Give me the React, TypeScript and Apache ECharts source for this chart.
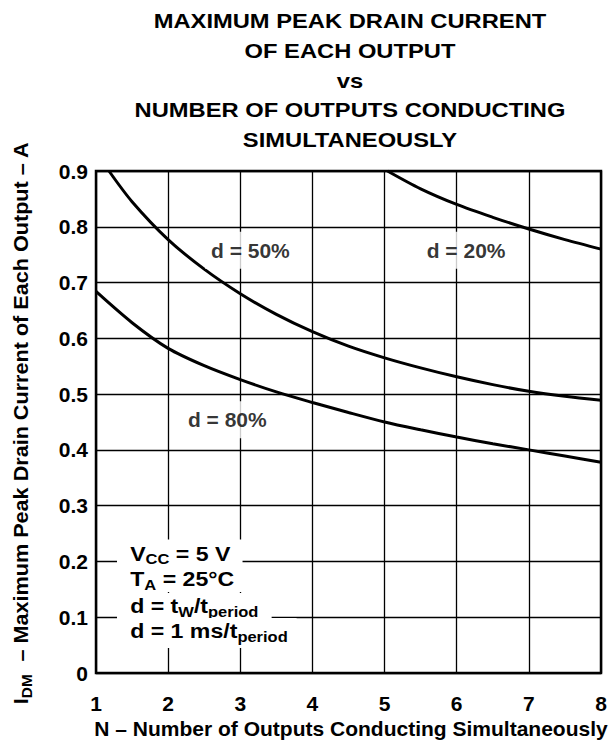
import React, { useEffect, useRef } from "react";
import * as echarts from "echarts";

// Number of outputs conducting simultaneously (x) vs max peak drain current (A)
const d20X = [5.04, 5.5, 6, 6.5, 7, 7.5, 8];
const d20Y = [0.9, 0.868, 0.84, 0.817, 0.796, 0.777, 0.76];

const d50X = [1.18, 1.5, 2, 2.5, 3, 3.5, 4, 4.5, 5, 5.5, 6, 6.5, 7, 7.5, 8];
const d50Y = [0.9, 0.845, 0.777, 0.724, 0.68, 0.643, 0.612, 0.586, 0.565, 0.547, 0.531, 0.517, 0.505, 0.496, 0.489];

const d80X = [1, 1.5, 2, 2.5, 3, 3.5, 4, 4.5, 5, 5.5, 6, 6.5, 7, 7.5, 8];
const d80Y = [0.684, 0.628, 0.582, 0.551, 0.526, 0.504, 0.485, 0.467, 0.45, 0.436, 0.423, 0.411, 0.4, 0.389, 0.378];

const curveLabels = ["d = 50%", "d = 20%", "d = 80%"];
const curveLabelX = [3.14, 6.13, 2.82];
const curveLabelY = [0.758, 0.758, 0.454];

const xTicks = [1, 2, 3, 4, 5, 6, 7, 8];
const yTicks = [0, 0.1, 0.2, 0.3, 0.4, 0.5, 0.6, 0.7, 0.8, 0.9];

const titleLines = [
  "MAXIMUM PEAK DRAIN CURRENT",
  "OF EACH OUTPUT",
  "vs",
  "NUMBER OF OUTPUTS CONDUCTING",
  "SIMULTANEOUSLY",
];

const FONT = '"Liberation Sans", Arial, Helvetica, sans-serif';

const zip = (xs: number[], ys: number[]) => xs.map((x, i) => [x, ys[i]]);

export default function App() {
  const ref = useRef<HTMLDivElement>(null);
  useEffect(() => {
    if (!ref.current) return;
    const chart = echarts.init(ref.current, undefined, { renderer: "svg" });
    const textBase = {
      fontFamily: FONT,
      fontWeight: "bold" as const,
      fill: "#000",
    };
    const rich = {
      m: { fontFamily: FONT, fontWeight: "bold", fontSize: 21, lineHeight: 24, color: "#000" },
      s: { fontFamily: FONT, fontWeight: "bold", fontSize: 15, lineHeight: 15, color: "#000", padding: [11, 0, 0, 0] },
    };
    const lineSeries = (data: number[][]) => ({
      type: "line",
      data,
      smooth: 0.3,
      showSymbol: false,
      symbol: "none",
      lineStyle: { color: "#000", width: 3 },
      z: 3,
    });
    const legendLines = [
      { t: "{m|V}{s|CC}{m| = 5 V}", y: 553, pt: 2, pr: 11, pb: 1 },
      { t: "{m|T}{s|A}{m| = 25°C}", y: 579, pt: 1, pr: 13, pb: 1 },
      { t: "{m|d = t}{s|W}{m|/t}{s|period}", y: 606, pt: 1, pr: 12, pb: 1 },
      { t: "{m|d = 1 ms/t}{s|period}", y: 633, pt: 1, pr: 8, pb: 5 },
    ];
    chart.setOption({
      animation: false,
      backgroundColor: "#fff",
      grid: {
        left: 96,
        right: 12,
        top: 171,
        bottom: 69,
        show: true,
        borderColor: "#000",
        borderWidth: 2.5,
        backgroundColor: "transparent",
        z: 2,
      },
      xAxis: {
        type: "value",
        min: 1,
        max: 8,
        interval: 1,
        axisLine: { show: false },
        axisTick: { show: false },
        splitLine: { show: true, lineStyle: { color: "#000", width: 1.3 } },
        axisLabel: {
          fontFamily: FONT,
          fontWeight: "bold",
          fontSize: 21,
          color: "#000",
          margin: 20,
          formatter: (v: number) => (xTicks.includes(v) ? String(v) : ""),
        },
      },
      yAxis: {
        type: "value",
        min: 0,
        max: 0.9,
        interval: 0.1,
        axisLine: { show: false },
        axisTick: { show: false },
        splitLine: { show: true, lineStyle: { color: "#000", width: 1.3 } },
        axisLabel: {
          fontFamily: FONT,
          fontWeight: "bold",
          fontSize: 21,
          color: "#000",
          margin: 8,
          formatter: (v: number) => {
            const t = yTicks.find((k) => Math.abs(k - v) < 1e-6);
            if (t === undefined) return "";
            return t === 0 ? "0" : t.toFixed(1);
          },
        },
      },
      series: [
        lineSeries(zip(d20X, d20Y)),
        lineSeries(zip(d50X, d50Y)),
        lineSeries(zip(d80X, d80Y)),
        {
          type: "scatter",
          symbolSize: 1,
          itemStyle: { color: "transparent" },
          z: 4,
          data: curveLabels.map((n, i) => ({ name: n, value: [curveLabelX[i], curveLabelY[i]] })),
          label: {
            show: true,
            position: "inside",
            formatter: (p: any) => p.name,
            fontFamily: FONT,
            fontWeight: "bold",
            fontSize: 21,
            color: "#000",
            backgroundColor: "#fff",
            padding: [8, 6, 8, 6],
          },
        },
      ],
      graphic: [
        {
          type: "text",
          x: 350,
          y: 6,
          scaleX: 1.13,
          style: {
            ...textBase,
            text: titleLines.join("\n"),
            fontSize: 21,
            lineHeight: 29.8,
            align: "center",
            verticalAlign: "top",
          },
        },
        {
          type: "text",
          x: 351,
          y: 728,
          style: {
            ...textBase,
            text: "N – Number of Outputs Conducting Simultaneously",
            fontSize: 21,
            align: "center",
            verticalAlign: "middle",
          },
        },
        {
          type: "text",
          x: 21,
          y: 423,
          rotation: Math.PI / 2,
          scaleX: 1.03,
          style: {
            text: "{m|I}{s|DM}{m|  – Maximum Peak Drain Current of Each Output – A}",
            rich: {
              m: { fontFamily: FONT, fontWeight: "bold", fontSize: 21, color: "#000" },
              s: { fontFamily: FONT, fontWeight: "bold", fontSize: 15, color: "#000", padding: [11, 0, 0, 0] },
            },
            align: "center",
            verticalAlign: "middle",
          },
        },
        ...legendLines.map((l) => ({
          type: "text",
          x: 117,
          y: l.y,
          z: 10,
          scaleX: 1.1,
          style: {
            text: l.t,
            rich,
            align: "left",
            verticalAlign: "middle",
            backgroundColor: "#fff",
            padding: [l.pt, l.pr, l.pb, 12],
          },
        })),
      ],
    });
    return () => chart.dispose();
  }, []);
  return (
    <div
      ref={ref}
      style={{ position: "absolute", left: 0, top: 0, width: 613, height: 742 }}
    />
  );
}
